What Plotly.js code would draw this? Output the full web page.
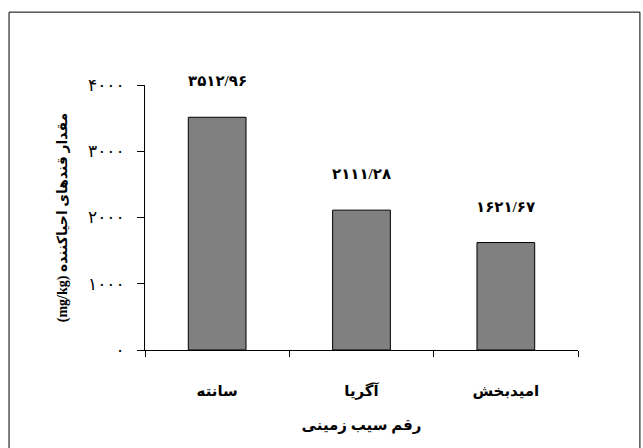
<!DOCTYPE html>
<html><head><meta charset="utf-8">
<script src="https://cdn.plot.ly/plotly-3.0.1.min.js"></script>
<style>html,body{margin:0;padding:0;background:#fff;}</style>
</head><body>
<div id="chart" style="width:643px;height:448px;"></div>
<script>
const categories = ["سانته", "آگریا", "امیدبخش"];
const values = [3512.96, 2111.28, 1621.67];
const yTickVals = [0, 1000, 2000, 3000, 4000];
const yTickText = ["۰", "۱۰۰۰", "۲۰۰۰", "۳۰۰۰", "۴۰۰۰"];
const xTitle = "رقم سیب زمینی";
const yTitleUnit = "(mg/kg)";
const yTitleText = "مقدار قندهای احیاکننده";

const faDigits = "۰۱۲۳۴۵۶۷۸۹";
function toFa(v) {
  return v.toFixed(2).replace(".", "/").replace(/[0-9]/g, d => faDigits[+d]);
}

const fontFam = "'Liberation Serif', 'DejaVu Sans', serif";

const trace = {
  type: "bar",
  x: categories,
  y: values,
  marker: { color: "#808080", line: { color: "#000", width: 1 } },
  hoverinfo: "none"
};

const annotations = categories.map((c, i) => ({
  x: c, y: values[i], xref: "x", yref: "y",
  text: "<b>" + toFa(values[i]) + "</b>",
  showarrow: false, yshift: 36,
  font: { family: fontFam, size: 15, color: "#000" }
}));

const layout = {
  width: 643, height: 448,
  margin: { l: 145, r: 65, t: 85, b: 98 },
  paper_bgcolor: "#fff", plot_bgcolor: "#fff",
  showlegend: false,
  bargap: 0.6,
  font: { family: fontFam, color: "#000" },
  xaxis: {
    type: "category",
    showline: true, linecolor: "#000", linewidth: 1,
    ticks: "outside", tickson: "boundaries", ticklen: 6, tickcolor: "#000",
    showgrid: false, zeroline: false,
    tickfont: { family: fontFam, size: 15, color: "#000", weight: "bold" },
    ticklabelstandoff: 27,
    title: { text: "<b>" + xTitle + "</b>", font: { family: fontFam, size: 15, color: "#000" }, standoff: 20 },
    fixedrange: true
  },
  yaxis: {
    range: [0, 4000],
    tickvals: yTickVals, ticktext: yTickText,
    showline: true, linecolor: "#000", linewidth: 1,
    ticks: "outside", ticklen: 7, tickcolor: "#000",
    showgrid: false, zeroline: false,
    tickfont: { family: fontFam, size: 17, color: "#000" },
    ticklabelstandoff: 9,
    title: { text: "<b>" + yTitleUnit + " " + yTitleText + "</b>", font: { family: fontFam, size: 14, color: "#000" }, standoff: 17 },
    fixedrange: true
  },
  annotations: annotations,
  shapes: [{
    type: "rect", xref: "paper", yref: "paper",
    x0: -0.314, x1: 1.143, y0: -0.5, y1: 1.275,
    line: { color: "#000", width: 1 }, fillcolor: "rgba(0,0,0,0)", layer: "below"
  }]
};

Plotly.newPlot("chart", [trace], layout, { displayModeBar: false, staticPlot: true });
</script>
</body></html>
